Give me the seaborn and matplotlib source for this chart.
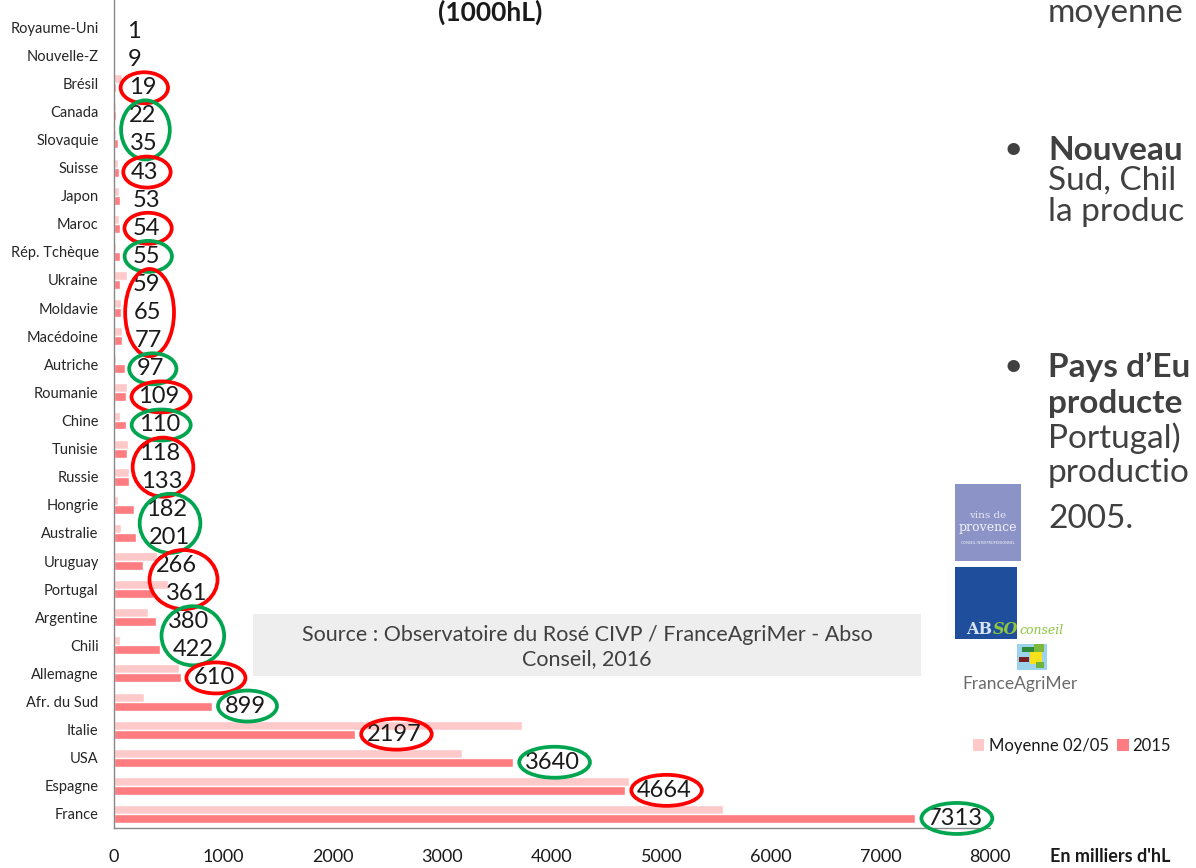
import numpy as np
import pandas as pd
import matplotlib
matplotlib.use("Agg")
import matplotlib.pyplot as plt
from matplotlib.patches import Ellipse, Rectangle, Patch
import seaborn as sns

# ---------------- data ----------------
countries = ["Royaume-Uni", "Nouvelle-Z", "Brésil", "Canada", "Slovaquie", "Suisse",
             "Japon", "Maroc", "Rép. Tchèque", "Ukraine", "Moldavie", "Macédoine",
             "Autriche", "Roumanie", "Chine", "Tunisie", "Russie", "Hongrie",
             "Australie", "Uruguay", "Portugal", "Argentine", "Chili", "Allemagne",
             "Afr. du Sud", "Italie", "USA", "Espagne", "France"]
moyenne_02_05 = [2, 5, 70, 15, 20, 40, 50, 50, 15, 120, 60, 75, 20, 120, 55, 125,
                 137, 36, 66, 390, 495, 307, 55, 590, 276, 3730, 3175, 4700, 5560]
values_2015 = [1, 9, 19, 22, 35, 43, 53, 54, 55, 59, 65, 77, 97, 109, 110, 118,
               133, 182, 201, 266, 361, 380, 422, 610, 899, 2197, 3640, 4664, 7313]
series_names = ["Moyenne 02/05", "2015"]
x_ticks = [0, 1000, 2000, 3000, 4000, 5000, 6000, 7000, 8000]

# annotation groups (circled labels)
ellipse_groups = [
    (["Brésil"], "red"), (["Canada", "Slovaquie"], "green"), (["Suisse"], "red"),
    (["Maroc"], "red"), (["Rép. Tchèque"], "green"),
    (["Ukraine", "Moldavie", "Macédoine"], "red"), (["Autriche"], "green"),
    (["Roumanie"], "red"), (["Chine"], "green"), (["Tunisie", "Russie"], "red"),
    (["Hongrie", "Australie"], "green"), (["Uruguay", "Portugal"], "red"),
    (["Argentine", "Chili"], "green"), (["Allemagne"], "red"),
    (["Afr. du Sud"], "green"), (["Italie"], "red"), (["USA"], "green"),
    (["Espagne"], "red"), (["France"], "green"),
]

LIGHT = "#FFC8C9"
DARK = "#FF7C80"
RED = "#FF0000"
GREEN = "#00A550"
TXT = "#404040"

sns.set_style("white")
plt.rcParams['font.family'] = ['Lato', 'DejaVu Sans']

W, H = 1196, 868
fig = plt.figure(figsize=(W / 100, H / 100), dpi=100)
ax = fig.add_axes([114 / W, 40 / H, 876 / W, 828 / H])

df = pd.DataFrame({
    "country": countries * 2,
    "value": moyenne_02_05 + values_2015,
    "series": [series_names[0]] * len(countries) + [series_names[1]] * len(countries),
})
sns.barplot(data=df, x="value", y="country", hue="series", order=countries,
            hue_order=series_names, palette=[LIGHT, DARK], orient="h",
            width=0.64, saturation=1, legend=False, ax=ax)

n = len(countries)
ax.set_xlim(0, 8000)
ax.set_ylim(n - 0.5, -0.5 - 13 / 28.1)
ax.set_xlabel("")
ax.set_ylabel("")
ax.set_xticks(x_ticks)
ax.set_xticklabels([str(t) for t in x_ticks])
ax.tick_params(axis="x", direction="out", length=4, width=1, color="#888888",
               labelsize=13, labelcolor="#1a1a1a", pad=11)
ax.tick_params(axis="y", which="major", length=0, labelsize=10.5, labelcolor="#262626", pad=11)
ax.set_yticks(np.arange(-0.5, n, 1), minor=True)
ax.tick_params(axis="y", which="minor", direction="out", length=4, width=1, color="#888888")
for s in ["top", "right"]:
    ax.spines[s].set_visible(False)
for s in ["left", "bottom"]:
    ax.spines[s].set_color("#888888")
    ax.spines[s].set_linewidth(1)
ax.grid(False)

# value labels on 2015 bars
texts = ax.bar_label(ax.containers[1], labels=[str(v) for v in values_2015],
                     padding=9, fontsize=17, color="#1a1a1a")
label_of = dict(zip(countries, texts))

# ellipses around labels
fig.canvas.draw()
renderer = fig.canvas.get_renderer()
inv = fig.transFigure.inverted()
for names, col in ellipse_groups:
    boxes = [label_of[c].get_window_extent(renderer) for c in names]
    x0 = min(b.x0 for b in boxes); x1 = max(b.x1 for b in boxes)
    y0 = min(b.y0 for b in boxes); y1 = max(b.y1 for b in boxes)
    cx, cy = (x0 + x1) / 2, (y0 + y1) / 2
    w = (x1 - x0) * 0.85 + 24
    h = (y1 - y0) + 10
    fx, fy = inv.transform((cx + 2, cy))
    e = Ellipse((fx, fy), w / W, h / H, transform=fig.transFigure,
                fill=False, edgecolor=RED if col == "red" else GREEN, lw=2.7)
    fig.add_artist(e)

# source box
fig.add_artist(Rectangle((253 / W, 1 - 676 / H), (921 - 253) / W, 62 / H,
                         transform=fig.transFigure, facecolor="#EEEEEE", edgecolor="none"))
fig.text(587 / W, 1 - 647 / H,
         "Source : Observatoire du Rosé CIVP / FranceAgriMer - Abso\nConseil, 2016",
         ha="center", va="center", fontsize=15.5, color=TXT, linespacing=1.2)

# title fragment at top
fig.text(490 / W, 1 - 12 / H, "(1000hL)", ha="center", va="center",
         fontsize=19, fontweight="bold", color="#1a1a1a")

# legend
handles = [Patch(facecolor=LIGHT, edgecolor="none"), Patch(facecolor=DARK, edgecolor="none")]
fig.legend(handles, series_names, loc="center left", bbox_to_anchor=(966 / W, 1 - 746 / H),
           ncol=2, frameon=False, fontsize=12, handlelength=0.7, handleheight=0.7,
           handletextpad=0.25, columnspacing=0.5, labelcolor="#1a1a1a",
           borderpad=0.2, borderaxespad=0.2)

# axis unit
fig.text(1050 / W, 1 - 857 / H, "En milliers d'hL", ha="left", va="center",
         fontsize=13, fontweight="bold", color="#1a1a1a")

# slide text on the right (cut by slide edge)
FS = 24
fig.text(1048 / W, 1 - 13 / H, "moyenne", ha="left", va="center", fontsize=FS, color=TXT)
right_lines = [
    (150, "Nouveau", "bold", True), (181, "Sud, Chil", "normal", False),
    (212, "la produc", "normal", False),
    (367, "Pays d\u2019Eu", "bold", True), (403, "producte", "bold", False),
    (438, "Portugal)", "normal", False), (473, "productio", "normal", False),
    (519, "2005.", "normal", False),
]
for y, t, wgt, bullet in right_lines:
    fig.text(1048 / W, 1 - y / H, t, ha="left", va="center", fontsize=FS,
             fontweight=wgt, color=TXT)
    if bullet:
        fig.text(1003 / W, 1 - y / H, "\u2022", ha="left", va="center", fontsize=FS, color=TXT)

# logos
fig.add_artist(Rectangle((955 / W, 1 - 561 / H), 66 / W, 77 / H, transform=fig.transFigure,
                         facecolor="#8C93C7", edgecolor="none"))
fig.text(988 / W, 1 - 515 / H, "vins de", ha="center", va="center", fontsize=7.5,
         color="#E6E8F5", family="DejaVu Serif")
fig.text(988 / W, 1 - 527 / H, "provence", ha="center", va="center", fontsize=9,
         color="#F2F3FA", family="DejaVu Serif")
fig.text(988 / W, 1 - 543 / H, "CONSEIL INTERPROFESSIONNEL", ha="center", va="center",
         fontsize=2.5, color="#F2F3FA")

fig.add_artist(Rectangle((955 / W, 1 - 639 / H), 62 / W, 72 / H, transform=fig.transFigure,
                         facecolor="#1F4E9D", edgecolor="none"))
t_ab = fig.text(966 / W, 1 - 629 / H, "AB", ha="left", va="center", fontsize=11.5,
                fontweight="bold", color="#D9E2F0", family="DejaVu Serif")
fig.canvas.draw()
bb = t_ab.get_window_extent(fig.canvas.get_renderer())
x_so = inv.transform((bb.x1 + 1, 0))[0]
t_so = fig.text(x_so, 1 - 629 / H, "SO", ha="left", va="center", fontsize=11.5,
                fontweight="bold", color="#8DC63F", family="DejaVu Serif", style="italic")
fig.canvas.draw()
bb = t_so.get_window_extent(fig.canvas.get_renderer())
x_c = inv.transform((bb.x1 + 1, 0))[0]
fig.text(x_c, 1 - 630 / H, "conseil", ha="left", va="center", fontsize=9,
         color="#8DC63F", family="DejaVu Serif", style="italic")

# FranceAgriMer icon
icon = [((1017, 644, 30, 26), "#9DD3EA"), ((1022, 647, 14, 5), "#2E8B3A"),
        ((1030, 652, 12, 12), "#F7E11B"), ((1019, 657, 10, 5), "#7A1F1F"),
        ((1034, 644, 10, 8), "#7DB83A"), ((1036, 662, 8, 6), "#6BB33E")]
for (x, y, w, h), c in icon:
    fig.add_artist(Rectangle((x / W, 1 - (y + h) / H), w / W, h / H,
                             transform=fig.transFigure, facecolor=c, edgecolor="none"))
fig.text(1020 / W, 1 - 684 / H, "FranceAgriMer", ha="center", va="center",
         fontsize=12.5, color="#6B6B6B")

fig.savefig("out.png", dpi=100)
